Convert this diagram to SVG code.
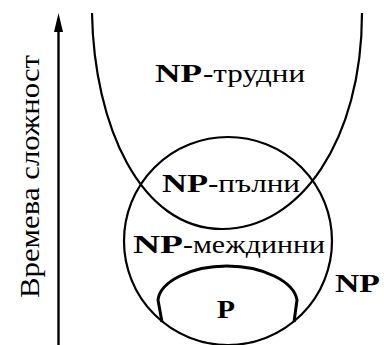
<svg xmlns="http://www.w3.org/2000/svg" width="384" height="345" viewBox="0 0 384 345">
<style>
.ln{fill:none;stroke:#000;stroke-width:2.2}
.thick{fill:none;stroke:#000;stroke-width:3}
.t{font-family:'Liberation Serif','DejaVu Serif',serif;font-size:26px;fill:#000}
.b{font-weight:bold}
</style>
<rect width="384" height="345" fill="#fff"/>
<g id="axis">
<line x1="58.5" y1="345" x2="58.5" y2="28" stroke="#000" stroke-width="2.4"/>
<polygon points="58.5,13 54,32 63,32" fill="#000"/>
<text class="t" transform="translate(38.5,176.5) rotate(-90)" text-anchor="middle" style="font-size:28px" textLength="243" lengthAdjust="spacingAndGlyphs">Времева сложност</text>
</g>
<g id="connectors">
<path id="np-hard-curve" class="ln" d="M92,13 C94,125 140,229 222,229 C300,229 362,140 362,13"/>
<circle id="np-circle" class="ln" cx="228" cy="241" r="104"/>
<path id="p-curve" class="thick" d="M162,322 L158,300 C160,282 190,266 227,266 C264,266 294,282 297,300 L294,322"/>
</g>
<g id="np-hard">
<text class="t b" x="155" y="82" textLength="47" lengthAdjust="spacingAndGlyphs">NP</text>
<text class="t" x="203" y="82" textLength="102" lengthAdjust="spacingAndGlyphs">-трудни</text>
</g>
<g id="np-complete">
<text class="t b" x="162" y="192" textLength="46" lengthAdjust="spacingAndGlyphs">NP</text>
<text class="t" x="208" y="192" textLength="92" lengthAdjust="spacingAndGlyphs">-пълни</text>
</g>
<g id="np-intermediate">
<text class="t b" x="133" y="253" textLength="50" lengthAdjust="spacingAndGlyphs">NP</text>
<text class="t" x="183" y="253" textLength="142" lengthAdjust="spacingAndGlyphs">-междинни</text>
</g>
<g id="np">
<text class="t b" x="335" y="292" textLength="45" lengthAdjust="spacingAndGlyphs">NP</text>
</g>
<g id="p">
<text class="t b" x="217" y="318" textLength="18" lengthAdjust="spacingAndGlyphs">P</text>
</g>
</svg>
